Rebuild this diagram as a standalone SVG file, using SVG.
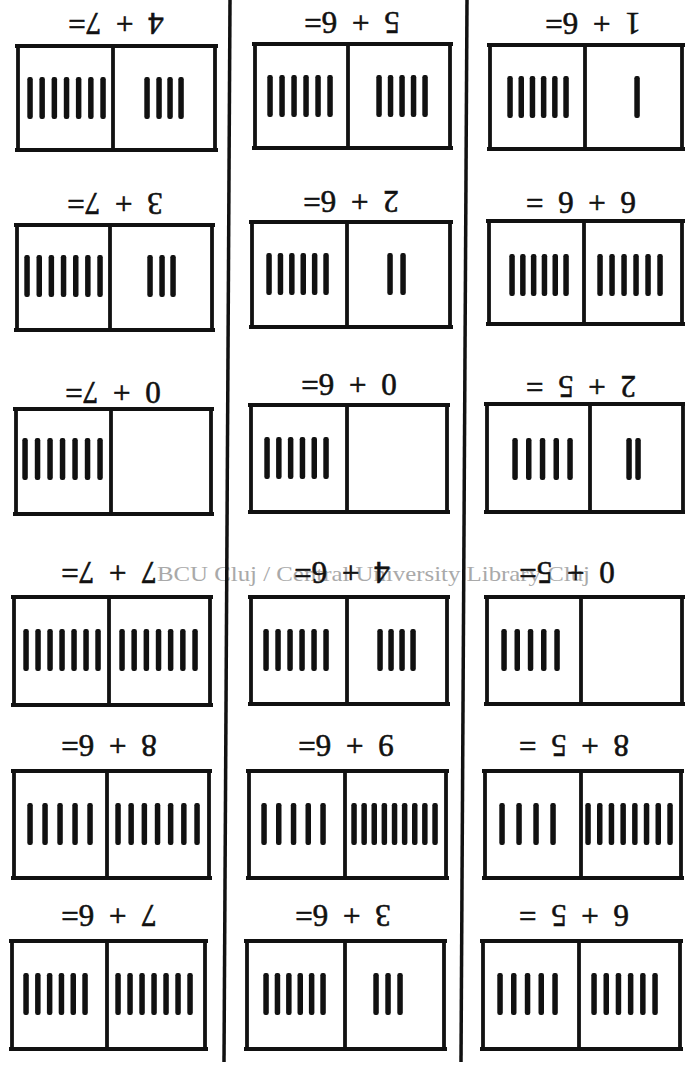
<svg xmlns="http://www.w3.org/2000/svg" width="685" height="1065" viewBox="0 0 685 1065">
<style>
.frame{fill:none;stroke:#111;stroke-width:3.8;stroke-linecap:butt}
.sep{stroke:#111;stroke-width:3.5;fill:none}
.lbl{font-family:"Liberation Serif","Times New Roman",serif;font-size:31px;fill:#111;stroke:#111;stroke-width:0.6;word-spacing:7px;text-anchor:middle;dominant-baseline:central}
.wm{font-family:"Liberation Serif","Times New Roman",serif;font-size:21px;fill:#a9a9a9}
</style>
<defs>
<rect id="bar" x="-0.5" y="0" width="5.5" height="42" rx="2.2" fill="#111"/>
</defs>
<rect width="685" height="1065" fill="#fff"/>
<text class="wm" x="157" y="581" textLength="433" lengthAdjust="spacingAndGlyphs">BCU Cluj / Central University Library Cluj</text>
<g id="separators">
<line class="sep" x1="230" y1="0" x2="224" y2="1062"/>
<line class="sep" x1="467" y1="0" x2="461" y2="1062"/>
</g>
<g id="connectors"/>

<!-- Row 1 -->
<g id="card-r1c1">
<text class="lbl" x="116" y="23" transform="rotate(180 116 23)">4 + 7=</text>
<path class="frame" d="M15 46H218M15 150H218M18 46V150M215 46V150M113 46V150"/>
<g transform="translate(0,77)"><use href="#bar" x="27.8"/><use href="#bar" x="39.9"/><use href="#bar" x="52.1"/><use href="#bar" x="64.3"/><use href="#bar" x="76.4"/><use href="#bar" x="88.6"/><use href="#bar" x="100.8"/><use href="#bar" x="144.8"/><use href="#bar" x="156.8"/><use href="#bar" x="167.8"/><use href="#bar" x="178.8"/></g>
</g>
<g id="card-r1c2">
<text class="lbl" x="352" y="22" transform="rotate(180 352 22)">5 + 6=</text>
<path class="frame" d="M252 44H453M252 148H453M255 44V148M450 44V148M348 44V148"/>
<g transform="translate(0,75)"><use href="#bar" x="267.8"/><use href="#bar" x="279.8"/><use href="#bar" x="291.8"/><use href="#bar" x="303.8"/><use href="#bar" x="315.8"/><use href="#bar" x="327.8"/><use href="#bar" x="376.8"/><use href="#bar" x="388.3"/><use href="#bar" x="399.8"/><use href="#bar" x="411.3"/><use href="#bar" x="422.8"/></g>
</g>
<g id="card-r1c3">
<text class="lbl" x="593" y="23" transform="rotate(180 593 23)">1 + 6=</text>
<path class="frame" d="M487 45H685M487 149H685M490 45V149M682 45V149M585 45V149"/>
<g transform="translate(0,76)"><use href="#bar" x="507.8"/><use href="#bar" x="519"/><use href="#bar" x="530.2"/><use href="#bar" x="541.4"/><use href="#bar" x="552.6"/><use href="#bar" x="563.8"/><use href="#bar" x="634.8"/></g>
</g>

<!-- Row 2 -->
<g id="card-r2c1">
<text class="lbl" x="115" y="203" transform="rotate(180 115 203)">3 + 7=</text>
<path class="frame" d="M14 225H215M14 330H215M17 225V330M212 225V330M110 225V330"/>
<g transform="translate(0,255)"><use href="#bar" x="24.8"/><use href="#bar" x="37"/><use href="#bar" x="49.1"/><use href="#bar" x="61.3"/><use href="#bar" x="73.5"/><use href="#bar" x="85.6"/><use href="#bar" x="97.8"/><use href="#bar" x="147.8"/><use href="#bar" x="159.8"/><use href="#bar" x="170.8"/></g>
</g>
<g id="card-r2c2">
<text class="lbl" x="351" y="201" transform="rotate(180 351 201)">2 + 6=</text>
<path class="frame" d="M249 222H453M249 327H453M252 222V327M450 222V327M347 222V327"/>
<g transform="translate(0,253)"><use href="#bar" x="266.8"/><use href="#bar" x="278.2"/><use href="#bar" x="289.6"/><use href="#bar" x="301"/><use href="#bar" x="312.4"/><use href="#bar" x="323.8"/><use href="#bar" x="387.8"/><use href="#bar" x="400.8"/></g>
</g>
<g id="card-r2c3">
<text class="lbl" x="581" y="202" transform="rotate(180 581 202)">6 + 6 =</text>
<path class="frame" d="M486 221H685M486 324H685M489 221V324M682 221V324M584 221V324"/>
<g transform="translate(0,254)"><use href="#bar" x="509.8"/><use href="#bar" x="520.6"/><use href="#bar" x="531.4"/><use href="#bar" x="542.2"/><use href="#bar" x="553"/><use href="#bar" x="563.8"/><use href="#bar" x="597.8"/><use href="#bar" x="609.8"/><use href="#bar" x="621.8"/><use href="#bar" x="633.8"/><use href="#bar" x="645.8"/><use href="#bar" x="657.8"/></g>
</g>

<!-- Row 3 -->
<g id="card-r3c1">
<text class="lbl" x="113" y="392" transform="rotate(180 113 392)">0 + 7=</text>
<path class="frame" d="M13 409H214M13 514H214M16 409V514M211 409V514M111 409V514"/>
<g transform="translate(0,438)"><use href="#bar" x="22.8"/><use href="#bar" x="35.3"/><use href="#bar" x="47.8"/><use href="#bar" x="60.3"/><use href="#bar" x="72.8"/><use href="#bar" x="85.3"/><use href="#bar" x="97.8"/></g>
</g>
<g id="card-r3c2">
<text class="lbl" x="349" y="384" transform="rotate(180 349 384)">0 + 6=</text>
<path class="frame" d="M248 405H450M248 512H450M251 405V512M447 405V512M347 405V512"/>
<g transform="translate(0,437)"><use href="#bar" x="264.8"/><use href="#bar" x="276.6"/><use href="#bar" x="288.4"/><use href="#bar" x="300.2"/><use href="#bar" x="312"/><use href="#bar" x="323.8"/></g>
</g>
<g id="card-r3c3">
<text class="lbl" x="581" y="386" transform="rotate(180 581 386)">2 + 5 =</text>
<path class="frame" d="M484 404H685M484 512H685M487 404V512M683 404V512M590 404V512"/>
<g transform="translate(0,438)"><use href="#bar" x="512.8"/><use href="#bar" x="526.5"/><use href="#bar" x="540.3"/><use href="#bar" x="554"/><use href="#bar" x="567.8"/><use href="#bar" x="626.8"/><use href="#bar" x="635.8"/></g>
</g>

<!-- Row 4 -->
<g id="card-r4c1">
<text class="lbl" x="109" y="572" transform="rotate(180 109 572)">7 + 7=</text>
<path class="frame" d="M11 597H213M11 705H213M14 597V705M210 597V705M109 597V705"/>
<g transform="translate(0,629)"><use href="#bar" x="23.8"/><use href="#bar" x="35.8"/><use href="#bar" x="47.8"/><use href="#bar" x="59.8"/><use href="#bar" x="71.8"/><use href="#bar" x="83.8"/><use href="#bar" x="95.8"/><use href="#bar" x="119.8"/><use href="#bar" x="131.9"/><use href="#bar" x="144.1"/><use href="#bar" x="156.3"/><use href="#bar" x="168.4"/><use href="#bar" x="180.6"/><use href="#bar" x="192.8"/></g>
</g>
<g id="card-r4c2">
<text class="lbl" x="342" y="572" transform="rotate(180 342 572)">4 + 6=</text>
<path class="frame" d="M248 597H450M248 704H450M251 597V704M447 597V704M347 597V704"/>
<g transform="translate(0,629)"><use href="#bar" x="263.8"/><use href="#bar" x="275.8"/><use href="#bar" x="287.8"/><use href="#bar" x="299.8"/><use href="#bar" x="311.8"/><use href="#bar" x="323.8"/><use href="#bar" x="377.8"/><use href="#bar" x="388.8"/><use href="#bar" x="399.8"/><use href="#bar" x="410.8"/></g>
</g>
<g id="card-r4c3">
<text class="lbl" x="567" y="572" transform="rotate(180 567 572)">0 + 5=</text>
<path class="frame" d="M484 597H685M484 704H685M487 597V704M682 597V704M581 597V704"/>
<g transform="translate(0,629)"><use href="#bar" x="501.8"/><use href="#bar" x="515"/><use href="#bar" x="528.3"/><use href="#bar" x="541.5"/><use href="#bar" x="554.8"/></g>
</g>

<!-- Row 5 -->
<g id="card-r5c1">
<text class="lbl" x="109" y="745" transform="rotate(180 109 745)">8 + 6=</text>
<path class="frame" d="M11 771H212M11 878H212M14 771V878M209 771V878M107 771V878"/>
<g transform="translate(0,803)"><use href="#bar" x="27.8"/><use href="#bar" x="42.8"/><use href="#bar" x="57.8"/><use href="#bar" x="72.8"/><use href="#bar" x="87.8"/><use href="#bar" x="115.8"/><use href="#bar" x="128.9"/><use href="#bar" x="142.1"/><use href="#bar" x="155.3"/><use href="#bar" x="168.4"/><use href="#bar" x="181.6"/><use href="#bar" x="194.8"/></g>
</g>
<g id="card-r5c2">
<text class="lbl" x="346" y="745" transform="rotate(180 346 745)">9 + 6=</text>
<path class="frame" d="M246 771H449M246 878H449M249 771V878M446 771V878M345 771V878"/>
<g transform="translate(0,803)"><use href="#bar" x="261.8"/><use href="#bar" x="276.5"/><use href="#bar" x="291.3"/><use href="#bar" x="306"/><use href="#bar" x="320.8"/><use href="#bar" x="351.8"/><use href="#bar" x="361.9"/><use href="#bar" x="372"/><use href="#bar" x="382.1"/><use href="#bar" x="392.3"/><use href="#bar" x="402.4"/><use href="#bar" x="412.5"/><use href="#bar" x="422.6"/><use href="#bar" x="432.8"/></g>
</g>
<g id="card-r5c3">
<text class="lbl" x="574" y="745" transform="rotate(180 574 745)">8 + 5 =</text>
<path class="frame" d="M482 771H684M482 878H684M485 771V878M681 771V878M581 771V878"/>
<g transform="translate(0,803)"><use href="#bar" x="499.8"/><use href="#bar" x="516.8"/><use href="#bar" x="533.8"/><use href="#bar" x="550.8"/><use href="#bar" x="585.8"/><use href="#bar" x="597.5"/><use href="#bar" x="609.2"/><use href="#bar" x="620.9"/><use href="#bar" x="632.6"/><use href="#bar" x="644.3"/><use href="#bar" x="656"/><use href="#bar" x="667.8"/></g>
</g>

<!-- Row 6 -->
<g id="card-r6c1">
<text class="lbl" x="109" y="915" transform="rotate(180 109 915)">7 + 6=</text>
<path class="frame" d="M9 941H208M9 1049H208M12 941V1049M205 941V1049M107 941V1049"/>
<g transform="translate(0,973)"><use href="#bar" x="23.8"/><use href="#bar" x="35.6"/><use href="#bar" x="47.4"/><use href="#bar" x="59.2"/><use href="#bar" x="71"/><use href="#bar" x="82.8"/><use href="#bar" x="115.8"/><use href="#bar" x="127.8"/><use href="#bar" x="139.8"/><use href="#bar" x="151.8"/><use href="#bar" x="163.8"/><use href="#bar" x="175.8"/><use href="#bar" x="187.8"/></g>
</g>
<g id="card-r6c2">
<text class="lbl" x="343" y="915" transform="rotate(180 343 915)">3 + 6=</text>
<path class="frame" d="M244 941H447M244 1049H447M247 941V1049M444 941V1049M345 941V1049"/>
<g transform="translate(0,973)"><use href="#bar" x="263.8"/><use href="#bar" x="275.2"/><use href="#bar" x="286.6"/><use href="#bar" x="298"/><use href="#bar" x="309.4"/><use href="#bar" x="320.8"/><use href="#bar" x="373.8"/><use href="#bar" x="385.8"/><use href="#bar" x="397.8"/></g>
</g>
<g id="card-r6c3">
<text class="lbl" x="574" y="915" transform="rotate(180 574 915)">6 + 5 =</text>
<path class="frame" d="M480 941H683M480 1049H683M483 941V1049M680 941V1049M579 941V1049"/>
<g transform="translate(0,973)"><use href="#bar" x="497.8"/><use href="#bar" x="511.5"/><use href="#bar" x="525.3"/><use href="#bar" x="539"/><use href="#bar" x="552.8"/><use href="#bar" x="591.8"/><use href="#bar" x="604"/><use href="#bar" x="616.2"/><use href="#bar" x="628.4"/><use href="#bar" x="640.6"/><use href="#bar" x="652.8"/></g>
</g>
</svg>
